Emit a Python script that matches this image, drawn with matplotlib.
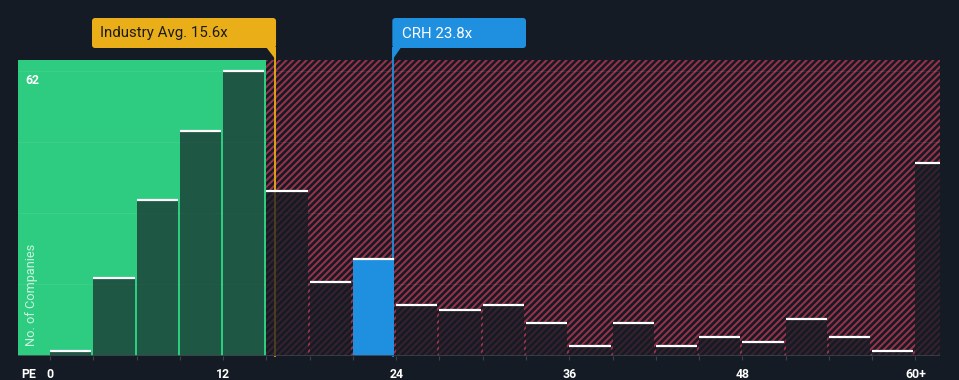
import numpy as np
import matplotlib
matplotlib.use("Agg")
import matplotlib.pyplot as plt
from matplotlib.patches import Rectangle, FancyBboxPatch, Polygon

# data
bin_left = [0, 3, 6, 9, 12, 15, 18, 21, 24, 27, 30, 33, 36, 39, 42, 45, 48, 51, 54, 57, 60]
counts = [1, 17, 34, 49, 62, 36, 16, 21, 11, 10, 11, 7, 2, 7, 2, 4, 3, 8, 4, 1, 42]
tick_vals = [0, 12, 24, 36, 48, 60]
tick_labels = ["0", "12", "24", "36", "48", "60+"]
industry_avg = 15.6
company = "CRH"
company_pe = 23.8
company_bin = 21
y_max_label = 62

# style
BG = "#151b24"
GREEN = "#2ecc80"
HATCH = "#9c3049"
BAR_DARK = "#161b24"
BLUE = "#1f8fe0"
YELLOW = "#e9ae18"
AXIS = "#3b424d"

DPI = 80
W, H = 959, 380
plt.rcParams["font.family"] = ["Roboto", "DejaVu Sans"]
plt.rcParams["hatch.linewidth"] = 1.8

fig = plt.figure(figsize=(W / DPI, H / DPI), dpi=DPI, facecolor=BG)
# axes in pixel box: x 18..940, y 60..355.5
ax = fig.add_axes([18 / W, (H - 355.5) / H, (940 - 18) / W, (355.5 - 60) / H])
ax.set_facecolor(BG)
x0, x1 = -2.22, 61.7
y_top = 64.5
ax.set_xlim(x0, x1)
ax.set_ylim(0, y_top)

# zones
ax.add_patch(Rectangle((x0, 0), 15 - x0, y_top, facecolor=GREEN, edgecolor="none", zorder=0))
ax.add_patch(Rectangle((15, 0), x1 - 15, y_top, facecolor=BG, edgecolor="none", zorder=0))
ax.add_patch(Rectangle((15, 0), x1 - 15, y_top, facecolor="none", edgecolor=HATCH,
                       hatch="////", linewidth=0, zorder=0.5))

# faint grid
for g in np.linspace(0, y_max_label, 5)[1:]:
    ax.axhline(g, color="white", alpha=0.07, lw=1, zorder=0.8)

# marker lines (run up above axes to the labels), under the bars
line_top = y_top + 12 / 4.58
ax.plot([industry_avg, industry_avg], [0, line_top], color=YELLOW, lw=1.6, clip_on=False, zorder=1)
ax.plot([company_pe, company_pe], [0, line_top], color=BLUE, lw=1.6, clip_on=False, zorder=1)

# bars
width = 2.86
for left, c in zip(bin_left, counts):
    if left == company_bin:
        ax.bar(left, c, width=width, align="edge", color=BLUE, zorder=2)
    else:
        a = 0.66 if left < 15 else 0.74
        ax.bar(left, c, width=width, align="edge", color=BAR_DARK, alpha=a, zorder=2)
    ax.hlines(c, left, left + width, color="white", lw=2.0, zorder=3)

# axis line + ticks
ax.axhline(0, color=AXIS, lw=1.5, zorder=4)
for s in ax.spines.values():
    s.set_visible(False)
ax.set_xticks(np.arange(0, 61, 3))
ax.set_xticklabels([])
ax.tick_params(axis="x", length=4, width=1, color=AXIS, pad=2)
ax.set_yticks([])
for v, lab in zip(tick_vals, tick_labels):
    ax.text(v, -4.2, lab, ha="center", va="center", color="white",
            fontsize=11, fontweight="bold", clip_on=False)
ax.text(x0 + 0.2, -4.2, "PE", ha="left", va="center", color="white",
        fontsize=11, fontweight="bold", clip_on=False)
ax.text(x0 + 0.5, y_max_label - 1.9, str(y_max_label), ha="left", va="center",
        color="white", fontsize=11, fontweight="bold")
fig.text(32 / W, (H - 346) / H, "No. of Companies", rotation=90, ha="center", va="bottom",
         color="white", alpha=0.75, fontsize=11.5)

# overlay in pixel coords for label boxes
ov = fig.add_axes([0, 0, 1, 1], facecolor="none")
ov.set_xlim(0, W)
ov.set_ylim(H, 0)
ov.axis("off")
xa = ax.transData.transform((industry_avg, 0))[0]
xc = ax.transData.transform((company_pe, 0))[0]

ov.add_patch(FancyBboxPatch((92, 18), xa + 1 - 92, 30, boxstyle="round,pad=0,rounding_size=3",
                            facecolor=YELLOW, edgecolor="none"))
ov.add_patch(Polygon([(xa - 9, 47), (xa + 1, 47), (xa + 1, 60)], closed=True,
                     facecolor=YELLOW, edgecolor="none"))
ov.text(100, 33.5, f"Industry Avg. {industry_avg}x", ha="left", va="center",
        color="#1b1b1b", fontsize=13.5)

ov.add_patch(FancyBboxPatch((xc - 1, 18), 526 - (xc - 1), 30, boxstyle="round,pad=0,rounding_size=3",
                            facecolor=BLUE, edgecolor="none"))
ov.add_patch(Polygon([(xc - 1, 47), (xc + 8, 47), (xc - 1, 60)], closed=True,
                     facecolor=BLUE, edgecolor="none"))
ov.text(xc + 9, 33.5, f"{company} {company_pe}x", ha="left", va="center",
        color="white", fontsize=13.5)

fig.savefig("out.png", dpi=DPI, facecolor=BG)
